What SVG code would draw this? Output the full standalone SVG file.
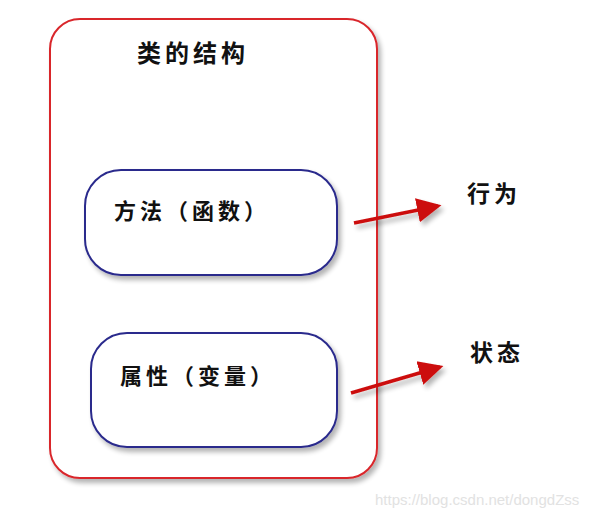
<svg xmlns="http://www.w3.org/2000/svg" width="600" height="518" viewBox="0 0 600 518">
<style>
.t{font-family:"Noto Sans CJK SC","Noto Sans",sans-serif;font-weight:bold;fill:#111;}
.outer{fill:#fff;stroke:#d9262c;stroke-width:2;}
.inner{fill:#fff;stroke:#2a2a8c;stroke-width:2;}
.conn{stroke:#cc1010;stroke-width:3.5;fill:none;}
</style>
<defs>
<filter id="sh" x="-10%" y="-10%" width="130%" height="130%">
<feGaussianBlur in="SourceAlpha" stdDeviation="2.5"/>
<feOffset dx="3" dy="4" result="b"/>
<feComponentTransfer><feFuncA type="linear" slope="0.3"/></feComponentTransfer>
<feMerge><feMergeNode/><feMergeNode in="SourceGraphic"/></feMerge>
</filter>
<marker id="ah" markerWidth="8" markerHeight="8" refX="6" refY="4" orient="auto" markerUnits="strokeWidth">
<path d="M0,0.5 L7,4 L0,7.5 Z" fill="#cc1010"/>
</marker>
</defs>
<rect width="600" height="518" fill="#fff"/>
<g id="class">
<rect class="outer" x="50" y="19" width="327" height="459" rx="30" filter="url(#sh)"/>
<text class="t" x="137" y="62" font-size="24" letter-spacing="4">类的结构</text>
</g>
<g id="methods">
<rect class="inner" x="85" y="170" width="252" height="105" rx="36" filter="url(#sh)"/>
<text class="t" x="114" y="219" font-size="22" letter-spacing="4">方法（函数）</text>
</g>
<g id="attributes">
<rect class="inner" x="91" y="333" width="246" height="114" rx="36" filter="url(#sh)"/>
<text class="t" x="120" y="384" font-size="22" letter-spacing="4">属性（变量）</text>
</g>
<g id="connectors" filter="url(#sh)">
<line class="conn" x1="354" y1="223" x2="438" y2="206" marker-end="url(#ah)"/>
<line class="conn" x1="351" y1="393" x2="440" y2="367" marker-end="url(#ah)"/>
</g>
<g id="behavior">
<text class="t" x="467" y="202" font-size="23" letter-spacing="4">行为</text>
</g>
<g id="state">
<text class="t" x="470" y="361" font-size="23" letter-spacing="4">状态</text>
</g>
<text x="375" y="505" font-family="Liberation Sans,Arial,sans-serif" font-size="15" fill="#e2e2e2">https://blog.csdn.net/dongdZss</text>
</svg>
